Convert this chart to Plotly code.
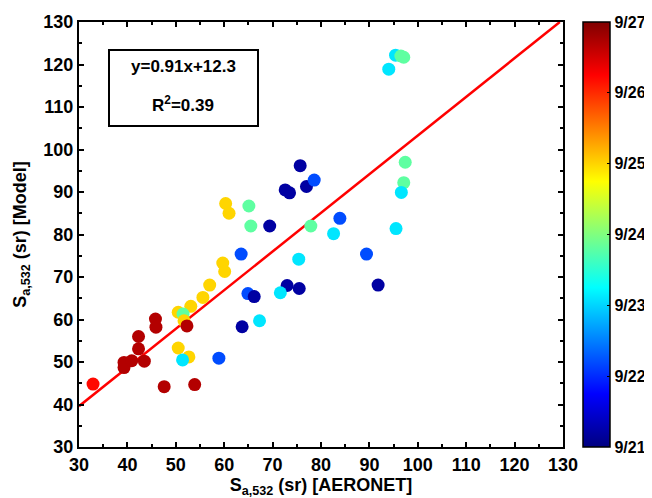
import plotly.graph_objects as go

# AERONET lidar ratio (x), model lidar ratio (y), day of September (colour)
aeronet = [60.3, 61.0, 65.1, 65.5, 69.4, 72.6, 73.5, 75.7, 77.0, 78.6, 77.9,
           95.4, 96.5, 97.1, 94.0, 97.4, 97.1, 96.6, 83.9, 82.6, 95.5,
           63.5, 75.4, 89.4, 91.8, 73.0, 75.5, 71.6, 64.9, 66.2, 67.3, 63.7, 58.9,
           59.7, 60.1, 57.0, 55.6, 53.1, 50.5, 51.5, 51.7, 52.3,
           45.8, 45.9, 42.3, 42.3, 39.3, 39.3, 40.9, 43.5,
           50.5, 52.7, 51.4, 32.9, 47.6, 53.9]
model = [87.3, 85.0, 86.7, 82.0, 82.0, 90.5, 89.8, 96.2, 91.3, 92.8, 82.0,
         122.2, 122.0, 121.7, 118.9, 97.0, 92.2, 89.9, 83.8, 80.2, 81.4,
         75.4, 74.2, 75.4, 68.1, 68.0, 67.3, 66.3, 66.1, 65.4, 59.7, 58.3, 50.9,
         73.3, 71.3, 68.1, 65.2, 63.1, 61.7, 61.3, 59.7, 58.5,
         60.1, 58.2, 56.0, 53.1, 49.9, 48.7, 50.3, 50.2,
         53.3, 51.2, 50.5, 44.8, 44.2, 44.7]
day = [25.0, 25.0, 23.8, 23.8, 21.2, 21.2, 21.2, 21.2, 21.2, 22.2, 23.8,
       23.1, 23.8, 23.8, 23.1, 23.8, 23.8, 23.1, 22.2, 23.1, 23.1,
       22.2, 23.1, 22.2, 21.2, 21.2, 21.2, 23.1, 22.2, 21.2, 23.1, 21.2, 22.2,
       25.0, 25.0, 25.0, 25.0, 25.0, 25.0, 23.8, 25.0, 26.7,
       26.7, 26.7, 26.7, 26.7, 26.7, 26.7, 26.7, 26.7,
       25.0, 25.0, 23.1, 26.2, 26.7, 26.7]

slope, intercept = 0.91, 12.3
r2 = 0.39
day_ticks = [21, 22, 23, 24, 25, 26, 27]
day_labels = ["9/21", "9/22", "9/23", "9/24", "9/25", "9/26", "9/27"]

jet = [[0.0, "rgb(0,0,128)"], [0.125, "rgb(0,0,255)"], [0.375, "rgb(0,255,255)"],
       [0.625, "rgb(255,255,0)"], [0.875, "rgb(255,0,0)"], [1.0, "rgb(128,0,0)"]]

font = "Liberation Sans, Arial, sans-serif"
bold = dict(family=font, size=18, color="black", weight="bold")

fig = go.Figure()

# regression line, clipped to the axes
x0 = 30
x1 = (130 - intercept) / slope
fig.add_trace(go.Scatter(x=[x0, x1], y=[slope * x0 + intercept, slope * x1 + intercept],
                         mode="lines", line=dict(color="rgb(255,0,0)", width=2.5),
                         showlegend=False, hoverinfo="skip"))

fig.add_trace(go.Scatter(
    x=aeronet, y=model, mode="markers", showlegend=False,
    marker=dict(size=13, color=day, cmin=21, cmax=27, colorscale=jet,
                line=dict(width=0),
                colorbar=dict(x=1.041, xanchor="left", y=0, yanchor="bottom", len=1,
                              xpad=0, ypad=0,
                              thickness=27, outlinewidth=1.5, outlinecolor="black",
                              tickvals=day_ticks, ticktext=day_labels,
                              ticks="inside", ticklen=3, tickcolor="black",
                              tickfont=dict(bold, size=16))),
))

axis = dict(range=[30, 130], dtick=10, showgrid=False, zeroline=False,
            showline=True, linecolor="black", linewidth=2, mirror="ticks",
            ticks="inside", ticklen=5, tickwidth=1.5, tickcolor="black",
            minor=dict(dtick=5, ticks="inside", ticklen=3, tickcolor="black"),
            tickfont=bold)

fig.update_xaxes(**axis, title=dict(text="S<sub>a,532</sub> (sr) [AERONET]", standoff=8, font=bold))
fig.update_yaxes(**axis, title=dict(text="S<sub>a,532</sub> (sr) [Model]", standoff=12, font=bold))

fig.add_shape(type="rect", xref="paper", yref="paper",
              x0=(109 - 79) / 484, x1=(258 - 79) / 484,
              y0=(447 - 126) / 425, y1=(447 - 50) / 425,
              line=dict(color="black", width=2), fillcolor="white")
fig.add_annotation(xref="paper", yref="paper", x=(183 - 79) / 484, y=(447 - 67) / 425,
                   xanchor="center", yanchor="middle",
                   text=f"y={slope}x+{intercept}", showarrow=False,
                   font=dict(bold, size=17))
fig.add_annotation(xref="paper", yref="paper", x=(183 - 79) / 484, y=(447 - 104) / 425,
                   xanchor="center", yanchor="middle",
                   text=f"R<sup>2</sup>={r2}", showarrow=False,
                   font=dict(bold, size=17))

# the page body adds an 8px margin, so the figure is 8px smaller than the window
fig.update_layout(width=644, height=490,
                  margin=dict(l=71, r=89, t=14, b=51, autoexpand=False),
                  plot_bgcolor="white", paper_bgcolor="white")

fig.write_html("out.html")
